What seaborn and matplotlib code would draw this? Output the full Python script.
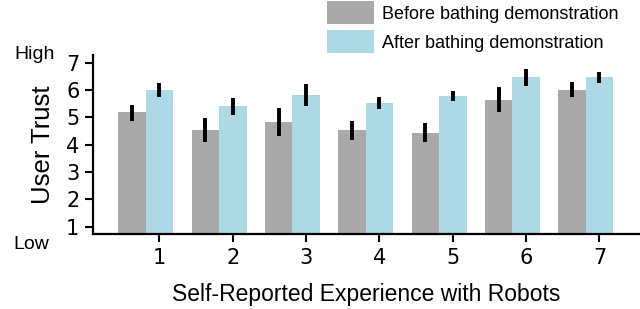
import numpy as np
import pandas as pd
import matplotlib
matplotlib.use("Agg")
import matplotlib.pyplot as plt
import seaborn as sns

# values
experience = [1, 2, 3, 4, 5, 6, 7]
before_mean = [5.18, 4.54, 4.84, 4.54, 4.44, 5.64, 6.01]
before_lo = [4.88, 4.11, 4.30, 4.18, 4.09, 5.18, 5.73]
before_hi = [5.45, 4.96, 5.34, 4.88, 4.81, 6.11, 6.29]
after_mean = [6.01, 5.40, 5.82, 5.54, 5.79, 6.47, 6.46]
after_lo = [5.74, 5.09, 5.42, 5.30, 5.60, 6.16, 6.25]
after_hi = [6.27, 5.69, 6.23, 5.76, 5.97, 6.77, 6.67]
conditions = ["Before bathing demonstration", "After bathing demonstration"]
colors = ["#a9a9a9", "#add8e6"]

df = pd.DataFrame({
    "experience": experience * 2,
    "trust": before_mean + after_mean,
    "lo": before_lo + after_lo,
    "hi": before_hi + after_hi,
    "condition": [conditions[0]] * 7 + [conditions[1]] * 7,
})

sns.set_style("white")
plt.rcParams["font.family"] = ["Liberation Sans", "DejaVu Sans"]
plt.rcParams["text.color"] = "black"
plt.rcParams["axes.labelcolor"] = "black"
plt.rcParams["xtick.color"] = "black"
plt.rcParams["ytick.color"] = "black"

fig = plt.figure(figsize=(6.4, 3.09), dpi=100)
ax = fig.add_axes([0.1458, 0.2427, 0.8542, 0.5793])

sns.barplot(data=df, x="experience", y="trust", hue="condition",
            hue_order=conditions, palette=colors, saturation=1,
            errorbar=None, width=0.75, linewidth=0, ax=ax)

# error bars drawn at the bar centres seaborn placed
for cont, cond in zip(ax.containers, conditions):
    sub = df[df["condition"] == cond]
    xs = [b.get_x() + b.get_width() / 2 for b in cont]
    m = sub["trust"].values
    yerr = [m - sub["lo"].values, sub["hi"].values - m]
    ax.errorbar(xs, m, yerr=yerr, fmt="none", ecolor="black",
                elinewidth=2.8, capsize=0)

handles, labels = ax.get_legend_handles_labels()
ax.legend(handles[:2], labels[:2], loc="upper left",
          bbox_to_anchor=(327 / 640, 1 - 1.5 / 309),
          bbox_transform=fig.transFigure, frameon=False,
          fontsize=13, handlelength=2.6, handleheight=1.55,
          handletextpad=0.45, labelspacing=0.35, borderpad=0,
          borderaxespad=0)

ax.set_xlim(-0.715, 6.74)
ax.set_ylim(0.73, 7.28)
ax.set_yticks([1, 2, 3, 4, 5, 6, 7])
ax.set_xticks(np.arange(7) + 0.1875)
ax.set_xticklabels([str(e) for e in experience])
for lab in ax.get_xticklabels() + ax.get_yticklabels():
    lab.set_fontfamily("DejaVu Sans")
    lab.set_fontsize(15)
ax.tick_params(axis="both", direction="out", length=6, width=1.5,
               color="black", pad=4, left=True, bottom=True)

sns.despine(ax=ax)
for side in ["left", "bottom"]:
    ax.spines[side].set_color("black")
    ax.spines[side].set_linewidth(1.6)

ax.set_xlabel("Self-Reported Experience with Robots", fontsize=16.5,
              labelpad=11)
ax.set_ylabel("User Trust", fontsize=18.5, labelpad=8)

fig.text(14 / 640, 1 - 46 / 309, "High", fontsize=14, va="top", ha="left")
fig.text(13 / 640, 1 - 236 / 309, "Low", fontsize=14, va="top", ha="left")

fig.savefig("out.png", dpi=100)
